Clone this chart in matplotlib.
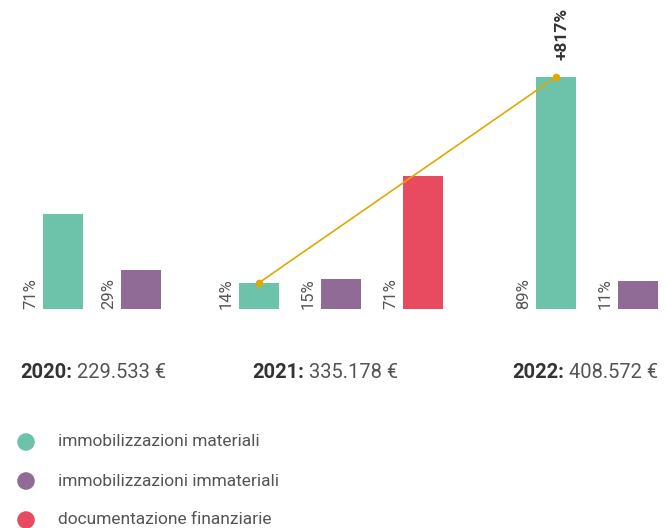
import matplotlib
matplotlib.use("Agg")
import matplotlib.pyplot as plt

plt.rcParams["font.family"] = ["Roboto", "DejaVu Sans"]

# data (bar heights in thousand EUR)
categories = ["immobilizzazioni materiali", "immobilizzazioni immateriali", "documentazione finanziarie"]
colors = ["#6dc3aa", "#8f6b95", "#e84a5f"]
years = ["2020", "2021", "2022"]
totals = ["229.533 €", "335.178 €", "408.572 €"]
bar_cat = [0, 1, 0, 1, 2, 0, 1]
bar_vals = [163, 67, 45, 51, 228, 398, 48]
bar_pct = ["71%", "29%", "14%", "15%", "71%", "89%", "11%"]
growth_label = "+817%"
growth_bars = [2, 5]

# layout (figure pixels)
W, H = 665, 528
bar_left = [43, 121, 239, 321, 403, 536, 618]
bar_w = 40
year_label_x = [20, 252, 512]
base_px = 309

fig = plt.figure(figsize=(W / 100, H / 100), dpi=100)
ax = fig.add_axes([0, 1 - base_px / H, 1, base_px / H])
ax.set_xlim(0, W)
ax.set_ylim(0, base_px * 1.715)
ax.axis("off")

for i, v in enumerate(bar_vals):
    ax.bar(bar_left[i], v, width=bar_w, align="edge", color=colors[bar_cat[i]], zorder=2)
    ax.text(bar_left[i] - 5, 0, bar_pct[i], rotation=90, ha="right", va="bottom",
            fontsize=12, color="#555555")

gx = [bar_left[i] + bar_w / 2 for i in growth_bars]
gy = [bar_vals[i] for i in growth_bars]
ax.plot(gx, gy, color="#e0a800", lw=1.2, marker="o", ms=4.5, zorder=3, clip_on=False)
ax.annotate(growth_label, (gx[1], gy[1]), xytext=(4, 12), textcoords="offset points",
            rotation=90, ha="center", va="bottom", fontsize=12.5, fontweight="bold",
            color="#333333", annotation_clip=False)

# overlay in pixel coordinates for labels and legend
ov = fig.add_axes([0, 0, 1, 1])
ov.set_xlim(0, W)
ov.set_ylim(H, 0)
ov.axis("off")
ov.patch.set_alpha(0)

for j, yr in enumerate(years):
    t = ov.text(year_label_x[j], 373, yr + ":", fontsize=14.5, fontweight="bold",
                color="#333333", ha="left", va="center")
    ov.annotate(" " + totals[j], xycoords=t, xy=(1, 0), ha="left", va="bottom",
                fontsize=14.5, color="#555555")

for k, cat in enumerate(categories):
    y = 442 + k * 39
    ov.scatter([26], [y], s=160, color=colors[k], edgecolors="none")
    ov.text(58, y, cat, fontsize=12.5, color="#555555", ha="left", va="center")

fig.savefig("out.png", dpi=100)
